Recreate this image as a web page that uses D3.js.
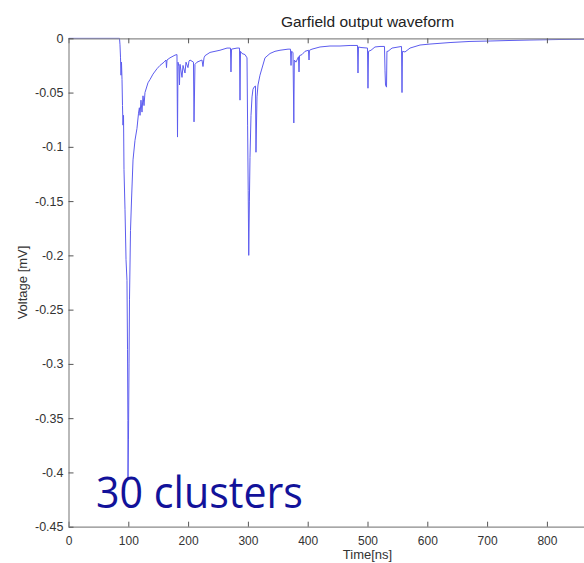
<!DOCTYPE html>
<html>
<head>
<meta charset="utf-8">
<script src="https://cdn.jsdelivr.net/npm/d3@7"></script>
<style>
  html, body { margin: 0; padding: 0; background: #fff; }
  svg { display: block; }
</style>
</head>
<body>
<svg id="chart" width="584" height="563"></svg>
<script>
// ---- Data ----
const times = [
  0, 85.3, 86.1, 87.0, 87.8, 88.6, 89.5, 90.3, 91.1, 92.0, 92.8, 94.5, 96.2, 97.8, 98.7, 99.3, 99.5,
  100.3, 101.2, 102.0, 103.7, 105.4, 107.9, 111.2, 114.5, 117.1, 118.5, 119.6, 121.2, 122.9, 124.6,
  126.3, 127.9, 132.9, 136.3, 141.3, 148.0, 153.0, 159.7, 163.0, 163.9, 164.7, 169.7, 178.1, 181.4,
  182.3, 183.1, 184.8, 185.6, 186.5, 189.8, 191.5, 194.8, 196.5, 199.8, 201.5, 203.2, 209.0, 209.9,
  211.5, 214.9, 223.2, 224.9, 226.6, 228.3, 236.6, 253.3, 265.1, 270.9, 271.7, 272.6, 281.8, 286.0,
  286.8, 287.6, 290.1, 295.2, 298.5, 299.5, 300.5, 301.4, 302.5, 303.5, 305.2, 306.9, 308.5, 310.2,
  312.7, 313.5, 315.2, 316.9, 320.2, 328.6, 337.0, 345.3, 353.7, 367.1, 371.2, 372.1, 372.9, 375.4,
  376.8, 377.6, 380.4, 384.6, 385.5, 386.3, 390.5, 395.5, 401.3, 402.2, 403.0, 407.2, 420.6, 437.3,
  454.0, 470.8, 483.3, 484.1, 484.9, 489.1, 500.0, 500.8, 501.7, 505.9, 512.5, 520.9, 528.4, 529.3,
  530.1, 531.8, 532.5, 534.3, 541.0, 556.9, 557.7, 558.5, 562.7, 571.1, 587.8, 604.5, 638.0, 671.4,
  704.9, 738.3, 771.7, 821.9, 862.0, 1000
];
const voltages = [
  0, 0, -0.006, -0.018, -0.034, -0.022, -0.038, -0.062, -0.080, -0.071, -0.121, -0.158, -0.204, -0.223, -0.287, -0.352, -0.405,
  -0.370, -0.300, -0.241, -0.177, -0.149, -0.112, -0.094, -0.083, -0.069, -0.064, -0.071, -0.057, -0.068, -0.053,
  -0.062, -0.050, -0.041, -0.038, -0.033, -0.028, -0.025, -0.022, -0.020, -0.027, -0.020, -0.018, -0.0155, -0.015,
  -0.091, -0.022, -0.026, -0.043, -0.024, -0.036, -0.025, -0.032, -0.022, -0.027, -0.021, -0.020, -0.022, -0.077,
  -0.024, -0.022, -0.020, -0.026, -0.018, -0.016, -0.013, -0.011, -0.009, -0.009, -0.031, -0.010, -0.009, -0.009,
  -0.057, -0.012, -0.014, -0.015, -0.018, -0.080, -0.140, -0.200, -0.150, -0.110, -0.071, -0.054, -0.047, -0.045,
  -0.044, -0.105, -0.054, -0.043, -0.034, -0.018, -0.014, -0.012, -0.011, -0.010, -0.010, -0.025, -0.012, -0.013,
  -0.078, -0.020, -0.022, -0.017, -0.031, -0.016, -0.015, -0.012, -0.011, -0.020, -0.011, -0.010, -0.008, -0.0071,
  -0.0071, -0.0066, -0.0066, -0.032, -0.008, -0.0085, -0.009, -0.046, -0.012, -0.011, -0.008, -0.0075, -0.0075, -0.030,
  -0.043, -0.045, -0.012, -0.012, -0.009, -0.0075, -0.050, -0.012, -0.0126, -0.009, -0.0062, -0.0053, -0.0039, -0.0029,
  -0.0025, -0.0020, -0.0016, -0.0011, -0.0009, -0.0005
];
const xTicks = [0, 100, 200, 300, 400, 500, 600, 700, 800];
const xTickLabels = ["0", "100", "200", "300", "400", "500", "600", "700", "800"];
const yTicks = [0, -0.05, -0.1, -0.15, -0.2, -0.25, -0.3, -0.35, -0.4, -0.45];
const yTickLabels = ["0", "-0.05", "-0.1", "-0.15", "-0.2", "-0.25", "-0.3", "-0.35", "-0.4", "-0.45"];
const titleText = "Garfield output waveform";
const xLabel = "Time[ns]";
const yLabel = "Voltage [mV]";
const annotation = "30 clusters";

// ---- Layout ----
const mLeft = 68.5, mTop = 38.3, mRight = 666.5, mBottom = 526.7;
const svg = d3.select("#chart");
const x = d3.scaleLinear().domain([0, 1000]).range([mLeft, mRight]);
const y = d3.scaleLinear().domain([-0.45, 0]).range([mBottom, mTop]);

const axisColor = "#8a8a8a";
const textColor = "#333";
const font = "'Liberation Sans', Arial, Helvetica, sans-serif";

// Clip
svg.append("clipPath").attr("id", "plotclip")
  .append("rect").attr("x", mLeft).attr("y", mTop - 1).attr("width", mRight - mLeft).attr("height", mBottom - mTop + 2);

// Waveform
const n = Math.min(times.length, voltages.length);
const pts = times.slice(0, n).map((t, i) => [t, voltages[i]]);
svg.append("path")
  .datum(pts)
  .attr("clip-path", "url(#plotclip)")
  .attr("fill", "none")
  .attr("stroke", "#5c5cee")
  .attr("stroke-width", 1)
  .attr("stroke-linejoin", "round")
  .attr("d", d3.line().x(d => x(d[0])).y(d => y(d[1])));

// Axes
const bottomAxis = d3.axisBottom(x).tickValues(xTicks)
  .tickFormat((d, i) => xTickLabels[i]).tickSizeInner(-5).tickSizeOuter(0).tickPadding(10);
const topAxis = d3.axisTop(x).tickValues(xTicks)
  .tickFormat("").tickSizeInner(-5).tickSizeOuter(0);
const leftAxis = d3.axisLeft(y).tickValues(yTicks)
  .tickFormat((d, i) => yTickLabels[i]).tickSizeInner(-5).tickSizeOuter(0).tickPadding(5);

function styleAxis(g) {
  g.select(".domain").attr("stroke", axisColor).attr("stroke-width", 1.2);
  g.selectAll(".tick line").attr("stroke", "#555").attr("stroke-width", 1);
  g.selectAll(".tick text").attr("fill", textColor).style("font-family", font).style("font-size", "12px");
}

svg.append("g").attr("transform", `translate(0,${mBottom})`).call(bottomAxis).call(styleAxis);
svg.append("g").attr("transform", `translate(0,${mTop})`).call(topAxis).call(styleAxis);
svg.append("g").attr("transform", `translate(${mLeft},0)`).call(leftAxis).call(styleAxis)
  .selectAll(".tick text").style("font-size", "12.5px");

// Title and labels
svg.append("text")
  .attr("x", (mLeft + mRight) / 2).attr("y", 27)
  .attr("text-anchor", "middle")
  .attr("fill", "#222")
  .style("font-family", font).style("font-size", "15.5px")
  .text(titleText);

svg.append("text")
  .attr("x", (mLeft + mRight) / 2).attr("y", 559)
  .attr("text-anchor", "middle")
  .attr("fill", textColor)
  .style("font-family", font).style("font-size", "13px")
  .text(xLabel);

svg.append("text")
  .attr("transform", `translate(27,${(mTop + mBottom) / 2}) rotate(-90)`)
  .attr("text-anchor", "middle")
  .attr("fill", textColor)
  .style("font-family", font).style("font-size", "13px")
  .text(yLabel);

// Annotation
svg.append("text")
  .attr("x", 96).attr("y", 508)
  .attr("fill", "#12129a")
  .attr("textLength", 207)
  .attr("lengthAdjust", "spacingAndGlyphs")
  .style("font-family", "'Open Sans', 'Noto Sans', sans-serif")
  .style("font-size", "43px")
  .text(annotation);
</script>
</body>
</html>
